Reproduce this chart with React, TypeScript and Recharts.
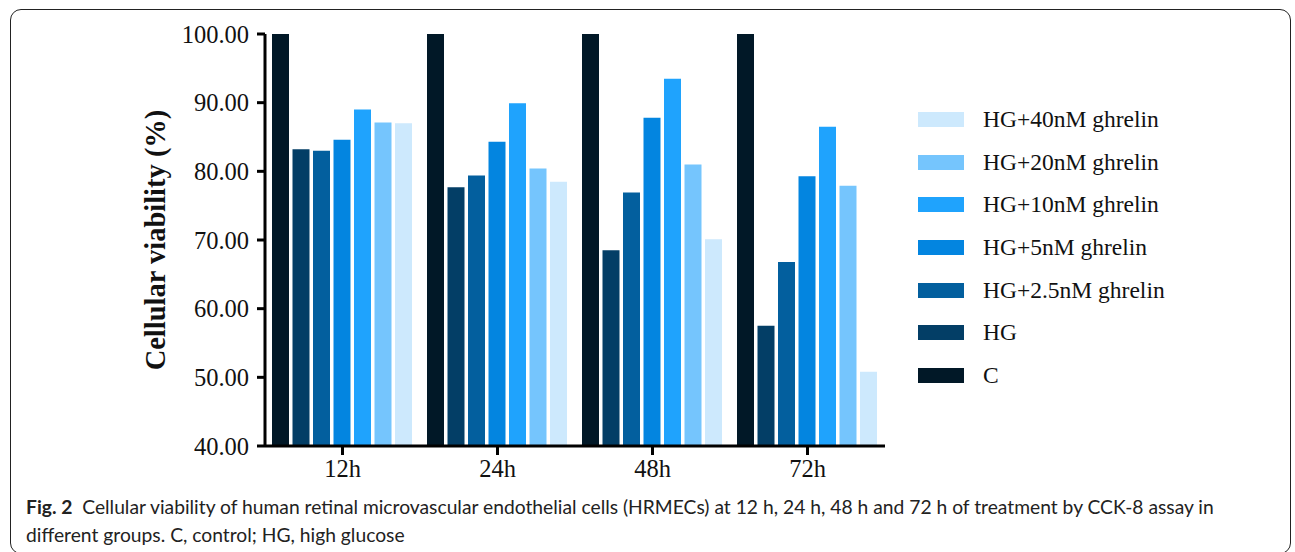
import { BarChart, Bar, XAxis, YAxis, Label } from 'recharts';

const timePoints = ['12h', '24h', '48h', '72h'];
const control = [100, 100, 100, 100];
const hg = [83.2, 77.7, 68.5, 57.5];
const ghrelin2_5 = [83.0, 79.4, 76.9, 66.8];
const ghrelin5 = [84.6, 84.3, 87.8, 79.3];
const ghrelin10 = [89.0, 89.9, 93.5, 86.5];
const ghrelin20 = [87.1, 80.4, 81.0, 77.9];
const ghrelin40 = [87.0, 78.5, 70.1, 50.8];
const yTicks = [40, 50, 60, 70, 80, 90, 100];

const series = [
  { key: 'c', name: 'C', values: control, color: '#011827' },
  { key: 'hg', name: 'HG', values: hg, color: '#033e66' },
  { key: 'g25', name: 'HG+2.5nM ghrelin', values: ghrelin2_5, color: '#035f9e' },
  { key: 'g5', name: 'HG+5nM ghrelin', values: ghrelin5, color: '#0385e0' },
  { key: 'g10', name: 'HG+10nM ghrelin', values: ghrelin10, color: '#1fa3fd' },
  { key: 'g20', name: 'HG+20nM ghrelin', values: ghrelin20, color: '#75c5fd' },
  { key: 'g40', name: 'HG+40nM ghrelin', values: ghrelin40, color: '#cde9fd' },
];

const data = timePoints.map((t, i) => {
  const row: Record<string, string | number> = { time: t };
  series.forEach(s => { row[s.key] = s.values[i]; });
  return row;
});

const serif = '"Liberation Serif", "Times New Roman", serif';

// legend lists the series top-down from the highest dose to control
function LegendBox() {
  const items = [...series].reverse();
  return (
    <div style={{ position: 'absolute', left: 918, top: 98, fontFamily: serif }}>
      {items.map(s => (
        <div key={s.key} style={{ display: 'flex', alignItems: 'center', height: 42.7 }}>
          <div style={{ width: 46, height: 15, background: s.color, marginRight: 19 }} />
          <span style={{ fontSize: 23.5, color: '#111' }}>{s.name}</span>
        </div>
      ))}
    </div>
  );
}

export default function App() {
  return (
    <div style={{ position: 'absolute', left: 0, top: 0, width: 1295, height: 552, background: '#fff' }}>
      <div style={{ position: 'absolute', left: 10, top: 9, width: 1281, height: 545, border: '1.3px solid #222', borderRadius: 11, boxSizing: 'border-box' }} />
      <div style={{ position: 'absolute', left: 0, top: 0 }}>
        <BarChart width={900} height={500} data={data} margin={{ top: 34, right: 15, left: 0, bottom: 14 }}
          barCategoryGap={7} barGap={3.5}>
          <XAxis dataKey="time" height={40} axisLine={{ stroke: '#000', strokeWidth: 3 }}
            tickLine={{ stroke: '#000', strokeWidth: 3 }} tickSize={9} tickMargin={5}
            tick={{ fontFamily: serif, fontSize: 24.5, fill: '#111' }} />
          <YAxis width={265} domain={[40, 100]} ticks={yTicks} interval={0} allowDataOverflow
            axisLine={{ stroke: '#000', strokeWidth: 3 }} tickLine={{ stroke: '#000', strokeWidth: 3 }}
            tickSize={8} tickMargin={8} tickFormatter={(v: number) => v.toFixed(2)}
            tick={{ fontFamily: serif, fontSize: 24.5, fill: '#111' }}>
            <Label value="Cellular viability (%)" angle={-90} position="center" dx={22}
              style={{ fontFamily: serif, fontSize: 28.5, fontWeight: 'bold', fill: '#111' }} />
          </YAxis>
          {series.map(s => (
            <Bar key={s.key} dataKey={s.key} name={s.name} fill={s.color} isAnimationActive={false} />
          ))}
        </BarChart>
      </div>
      <LegendBox />
      <div style={{ position: 'absolute', left: 26, top: 493, fontFamily: 'Lato, "Open Sans", sans-serif', fontSize: 19.25, lineHeight: '28px', color: '#222', whiteSpace: 'nowrap' }}>
        <div><b>Fig. 2</b>&nbsp;&nbsp;Cellular viability of human retinal microvascular endothelial cells (HRMECs) at 12 h, 24 h, 48 h and 72 h of treatment by CCK-8 assay in</div>
        <div>different groups. C, control; HG, high glucose</div>
      </div>
    </div>
  );
}
